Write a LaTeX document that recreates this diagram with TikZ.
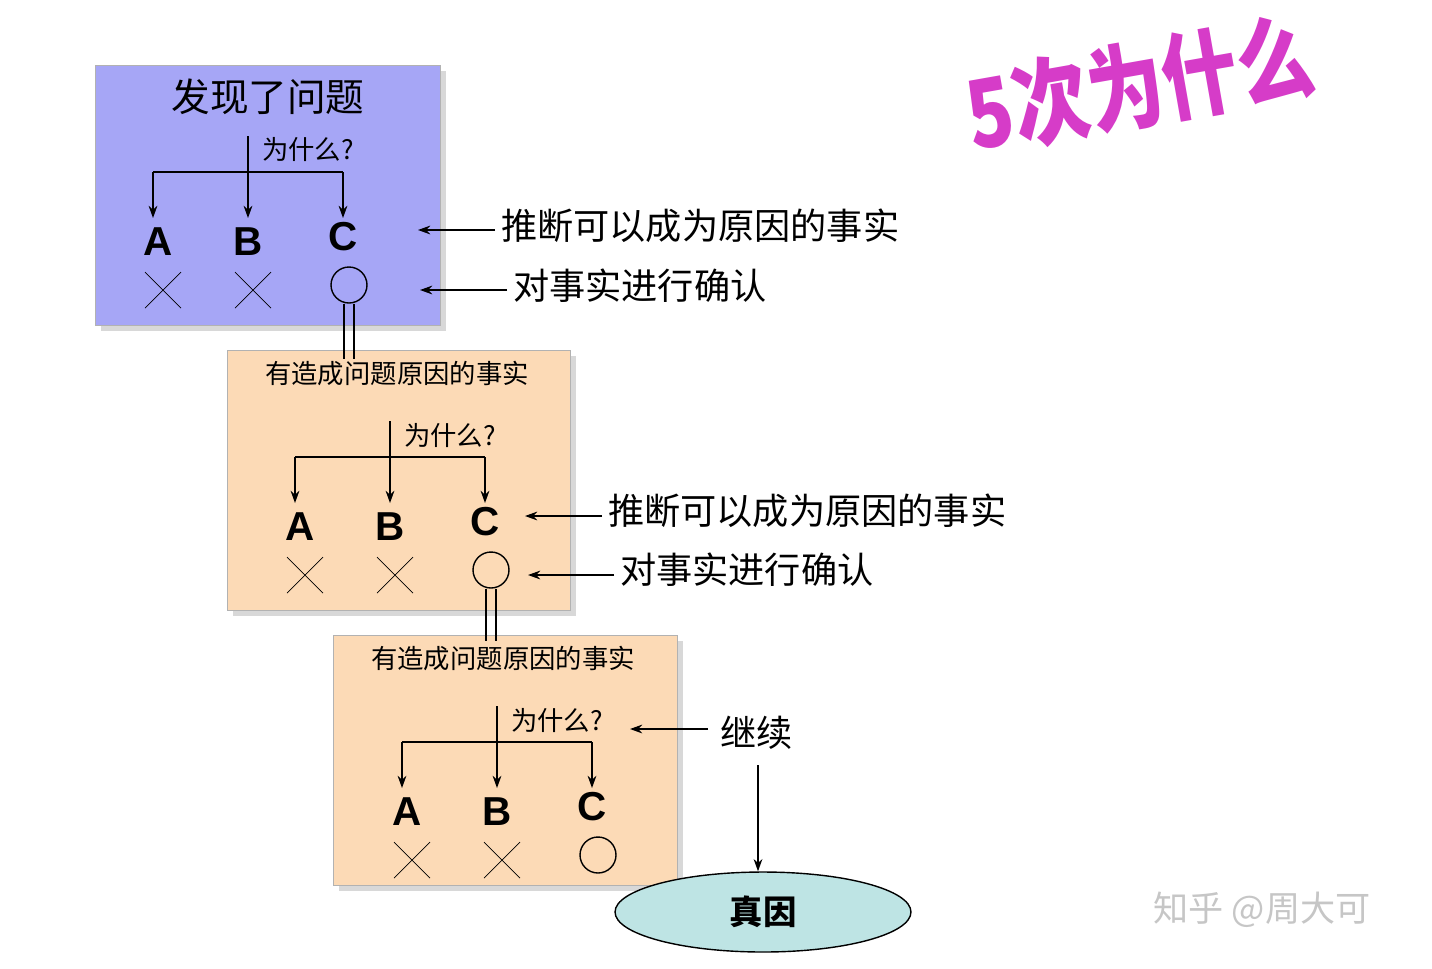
\documentclass[tikz,border=0pt]{standalone}
\usepackage{fontspec}
\setmainfont{Liberation Sans}
\newfontfamily\cjk{Noto Sans CJK SC}
\usetikzlibrary{arrows.meta,shapes.geometric,shadows}
\definecolor{kastenblau}{RGB}{166,166,246}
\definecolor{kastenpfirsich}{RGB}{252,218,182}
\definecolor{ellipsecyan}{RGB}{190,228,228}
\definecolor{wortmagenta}{RGB}{214,60,200}
\tikzset{
  kasten/.style={draw=gray!60, rectangle, anchor=north west, inner sep=0pt, drop shadow={shadow xshift=3pt, shadow yshift=-3pt, fill=gray!60}},
  pfeil/.style={-{Stealth[length=7pt,width=5pt]}, thick},
  buchstabe/.style={font=\fontsize{23}{23}\selectfont\bfseries},
  wort/.style={font=\cjk\fontsize{20.6}{21}\selectfont, anchor=west},
  titel/.style={font=\cjk\fontsize{15}{15}\selectfont},
}
\begin{document}
\begin{tikzpicture}[x=0.02cm, y=-0.02cm]
	\useasboundingbox (0,0) rectangle (1432,968);

	% Kaesten
	\node[kasten, fill=kastenblau, minimum width=345*0.2mm, minimum height=260*0.2mm] (K1) at (95,65) {};
	\node[kasten, fill=kastenpfirsich, minimum width=343*0.2mm, minimum height=260*0.2mm] (K2) at (227,350) {};
	\node[kasten, fill=kastenpfirsich, minimum width=344*0.2mm, minimum height=250*0.2mm] (K3) at (333,635) {};

	\node[font=\cjk\fontsize{22}{22}\selectfont] (T1) at (268,97) {发现了问题};
	\node[titel] (T2) at (397,373) {有造成问题原因的事实};
	\node[titel] (T3) at (503,658) {有造成问题原因的事实};

	% Baeume
	\foreach \i/\dx/\dy in {1/0/0, 2/142/285, 3/249/570} {
		\begin{scope}[shift={(\dx,\dy)}]
			\coordinate (W\i) at (248,136);
			\coordinate (M\i) at (248,172);
			\coordinate (L\i) at (153,172);
			\coordinate (R\i) at (343,172);
			\node[titel, anchor=west] (F\i) at (256,150) {为什么?};
			\node[buchstabe] (A\i) at (158,242) {A};
			\node[buchstabe] (B\i) at (248,242) {B};
			\node[buchstabe] (C\i) at (343,237) {C};
			\draw[thick] (W\i) -- (M\i);
			\draw[thick] (L\i) -- (R\i);
			\draw[pfeil] (L\i) -- (153,218);
			\draw[pfeil] (M\i) -- (248,218);
			\draw[pfeil] (R\i) -- (343,218);
			\draw (145,272) -- (181,308) (145,308) -- (181,272);
			\draw (235,272) -- (271,308) (235,308) -- (271,272);
			\node[draw, thick, circle, minimum size=36*0.2mm, inner sep=0pt] (O\i) at (349,285) {};
		\end{scope}
	}

	% Verbindungen
	\draw[thick] ([xshift=-5*0.2mm]O1.south) -- ++(0,55);
	\draw[thick] ([xshift=5*0.2mm]O1.south) -- ++(0,55);
	\draw[thick] ([xshift=-5*0.2mm]O2.south) -- ++(0,52);
	\draw[thick] ([xshift=5*0.2mm]O2.south) -- ++(0,52);

	% Erklaerungen
	\node[wort] (E1) at (495,226) {推断可以成为原因的事实};
	\node[wort] (E2) at (507,286) {对事实进行确认};
	\node[wort] (E3) at (602,511) {推断可以成为原因的事实};
	\node[wort] (E4) at (614,570) {对事实进行确认};
	\node[wort] (E5) at (714,733) {继续};
	\draw[pfeil] (E1.west |- 0,230) -- (418,230);
	\draw[pfeil] (E2.west |- 0,290) -- (420,290);
	\draw[pfeil] (E3.west |- 0,516) -- (525,516);
	\draw[pfeil] (E4.west |- 0,575) -- (528,575);
	\draw[pfeil] (708,729) -- (630,729);

	% Ergebnis
	\node[draw, thick, ellipse, fill=ellipsecyan, minimum width=296*0.2mm, minimum height=80*0.2mm, font=\cjk\fontsize{19}{19}\selectfont\bfseries] (Z) at (763,912) {真因};
	\draw[pfeil] (758,765) -- (Z.north -| 758,0);

	% Ueberschrift und Zeichen
	\node[font=\cjk\fontsize{54}{54}\selectfont\bfseries, text=wortmagenta, rotate=10, xscale=0.8, inner sep=0pt] (U) at (1140,85) {5次为什么};
	\node[font=\cjk\fontsize{20}{20}\selectfont, text=gray!45] (Q) at (1262,910) {知乎 @周大可};
\end{tikzpicture}
\end{document}
